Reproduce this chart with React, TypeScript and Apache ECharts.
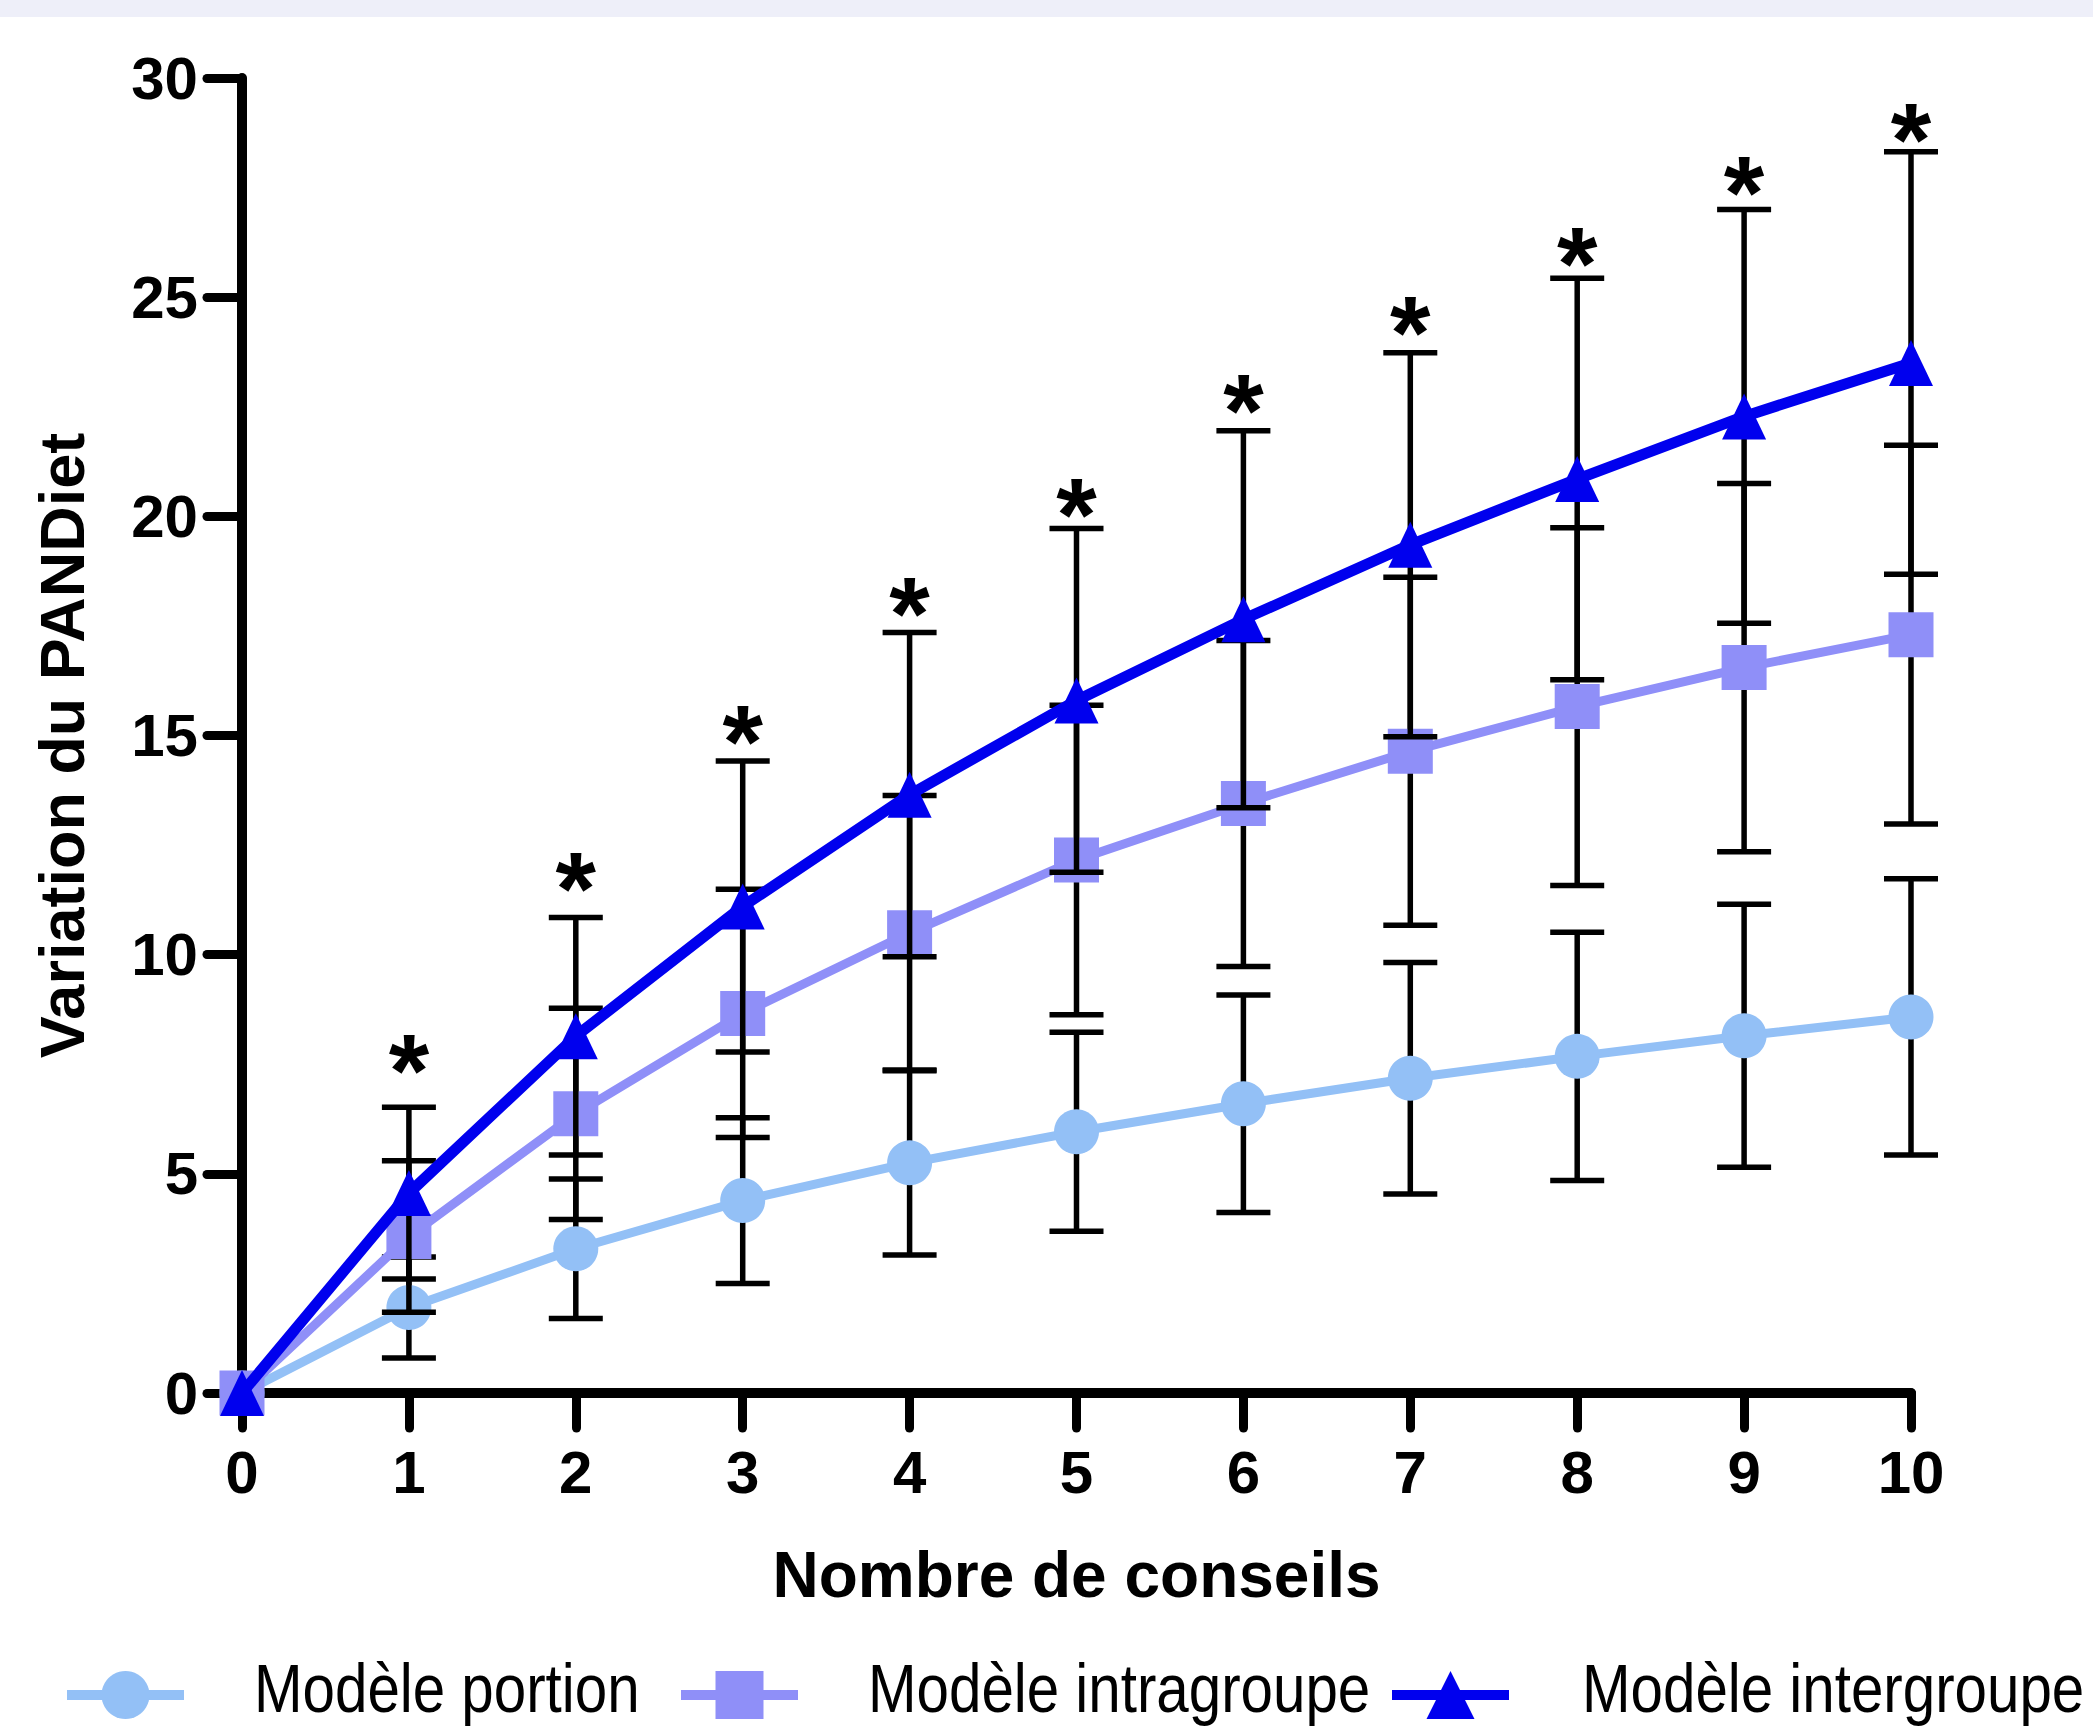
import React, { useEffect, useRef } from "react";
import * as echarts from "echarts";

// ---- data ----
const conseils = [0, 1, 2, 3, 4, 5, 6, 7, 8, 9, 10];
const portionMean = [0, 1.95, 3.29, 4.39, 5.25, 5.96, 6.6, 7.18, 7.68, 8.15, 8.58];
const portionSD = [0, 1.15, 1.59, 1.89, 2.1, 2.27, 2.48, 2.64, 2.83, 3.0, 3.15];
const intraMean = [0, 3.57, 6.37, 8.66, 10.5, 12.16, 13.45, 14.64, 15.66, 16.55, 17.3];
const intraSD = [0, 1.73, 2.41, 2.83, 3.13, 3.53, 3.72, 3.97, 4.08, 4.2, 4.32];
const interMean = [0, 4.56, 8.14, 11.1, 13.65, 15.8, 17.65, 19.35, 20.85, 22.28, 23.5];
const interSD = [0, 1.96, 2.71, 3.32, 3.7, 3.92, 4.3, 4.38, 4.58, 4.72, 4.82];
// height (in PANDiet units) at which each significance star is drawn
const starLevel = [null, 7.62, 11.77, 15.12, 18.05, 20.3, 22.68, 24.45, 26.04, 27.66, 28.87];
const seriesNames = ["Modèle portion", "Modèle intragroupe", "Modèle intergroupe"];
const xAxisTitle = "Nombre de conseils";
const yAxisTitle = "Variation du PANDiet";

// ---- styles ----
const colors = ["#93C0F6", "#8F8FF8", "#0000EE"];
const symbols = ["circle", "rect", "triangle"];
const symbolSizes: any[] = [45, 45, [44, 46]];
const lineWidths = [9, 9, 11];
const legendLefts = [62, 676, 1387];
const legendTextLefts = [254, 868, 1582];
const legendY = 1695;
const W = 2093;
const H = 1728;
const boldFont = "'Liberation Sans', Arial, sans-serif";
const legendFont = "'Liberation Sans', Arial, sans-serif";

function errorBars(mean: number[], sd: number[], z: number) {
  return {
    type: "custom",
    z,
    silent: true,
    clip: false,
    data: conseils.map((x, i) => [x, mean[i] - sd[i], mean[i] + sd[i]]),
    encode: { x: 0, y: [1, 2] },
    renderItem: (_p: any, api: any) => {
      const x = api.value(0);
      const lo = api.coord([x, api.value(1)]);
      const hi = api.coord([x, api.value(2)]);
      if (Math.abs(hi[1] - lo[1]) < 0.5) return { type: "group", children: [] };
      const hw = 27;
      const style = { stroke: "#000", lineWidth: 5.5 };
      return {
        type: "group",
        children: [
          { type: "line", shape: { x1: lo[0], y1: lo[1], x2: hi[0], y2: hi[1] }, style },
          { type: "line", shape: { x1: hi[0] - hw, y1: hi[1], x2: hi[0] + hw, y2: hi[1] }, style },
          { type: "line", shape: { x1: lo[0] - hw, y1: lo[1], x2: lo[0] + hw, y2: lo[1] }, style },
        ],
      };
    },
  };
}

function lineSeries(idx: number, mean: number[], z: number) {
  return {
    type: "line",
    name: seriesNames[idx],
    z,
    clip: false,
    data: conseils.map((x, i) => [x, mean[i]]),
    symbol: symbols[idx],
    symbolSize: symbolSizes[idx],
    showAllSymbol: true,
    lineStyle: { color: colors[idx], width: lineWidths[idx] },
    itemStyle: { color: colors[idx], borderWidth: 0 },
    emphasis: { disabled: true },
  };
}

export default function App() {
  const ref = useRef<HTMLDivElement>(null);
  useEffect(() => {
    if (!ref.current) return;
    const chart = echarts.init(ref.current, undefined, { renderer: "svg" });
    const option: any = {
      animation: false,
      backgroundColor: "#ffffff",
      graphic: [
        { type: "rect", shape: { x: 0, y: 0, width: W, height: 17 }, style: { fill: "#EEEFF9" }, z: 0 },
        ...seriesNames.map((name, i) => ({
          type: "text",
          x: legendTextLefts[i],
          y: legendY - 7,
          scaleX: 0.845,
          z: 10,
          style: {
            text: name,
            fontFamily: legendFont,
            fontSize: 69,
            fill: "#000",
            align: "left",
            verticalAlign: "middle",
          },
        })),
      ],
      grid: { left: 242, right: 182, top: 78, bottom: 335 },
      xAxis: {
        type: "value",
        min: 0,
        max: 10,
        interval: 1,
        name: xAxisTitle,
        nameLocation: "middle",
        nameGap: 150,
        nameTextStyle: { fontFamily: boldFont, fontWeight: "bold", fontSize: 64, color: "#000" },
        axisLine: { show: true, onZero: false, lineStyle: { color: "#000", width: 10 } },
        axisTick: { show: true, length: 35, lineStyle: { color: "#000", width: 9, cap: "round" } },
        axisLabel: { margin: 49, fontFamily: boldFont, fontWeight: "bold", fontSize: 60, color: "#000" },
        splitLine: { show: false },
      },
      yAxis: {
        type: "value",
        min: 0,
        max: 30,
        interval: 5,
        name: yAxisTitle,
        nameLocation: "middle",
        nameRotate: 90,
        nameGap: 149,
        nameTextStyle: {
          fontFamily: boldFont,
          fontWeight: "bold",
          fontSize: 63,
          color: "#000",
          padding: [0, 20, 0, 0],
        },
        axisLine: { show: true, lineStyle: { color: "#000", width: 10 } },
        axisTick: { show: true, length: 35, lineStyle: { color: "#000", width: 9, cap: "round" } },
        axisLabel: { margin: 44, fontFamily: boldFont, fontWeight: "bold", fontSize: 60, color: "#000" },
        splitLine: { show: false },
      },
      legend: seriesNames.map((name, i) => ({
        data: [name],
        left: legendLefts[i],
        top: legendY - 30,
        padding: 0,
        itemWidth: 117,
        itemHeight: 60,
        selectedMode: false,
        lineStyle: { width: 10 },
        formatter: () => "",
        textStyle: { fontSize: 1 },
      })),
      series: [
        errorBars(portionMean, portionSD, 1),
        lineSeries(0, portionMean, 2),
        errorBars(intraMean, intraSD, 3),
        lineSeries(1, intraMean, 4),
        errorBars(interMean, interSD, 5),
        lineSeries(2, interMean, 6),
        {
          type: "custom",
          z: 7,
          silent: true,
          clip: false,
          data: conseils
            .map((x, i) => [x, starLevel[i]])
            .filter((d) => d[1] !== null),
          encode: { x: 0, y: 1 },
          renderItem: (_p: any, api: any) => {
            const pt = api.coord([api.value(0), api.value(1)]);
            return {
              type: "text",
              x: pt[0],
              y: pt[1] + 12,
              style: {
                text: "*",
                fontSize: 104,
                fontWeight: "bold",
                fontFamily: boldFont,
                fill: "#000",
                align: "center",
                verticalAlign: "middle",
              },
            };
          },
        },
      ],
    };
    chart.setOption(option);
    return () => chart.dispose();
  }, []);
  return (
    <div
      ref={ref}
      style={{ position: "absolute", left: 0, top: 0, width: W, height: H }}
    />
  );
}
